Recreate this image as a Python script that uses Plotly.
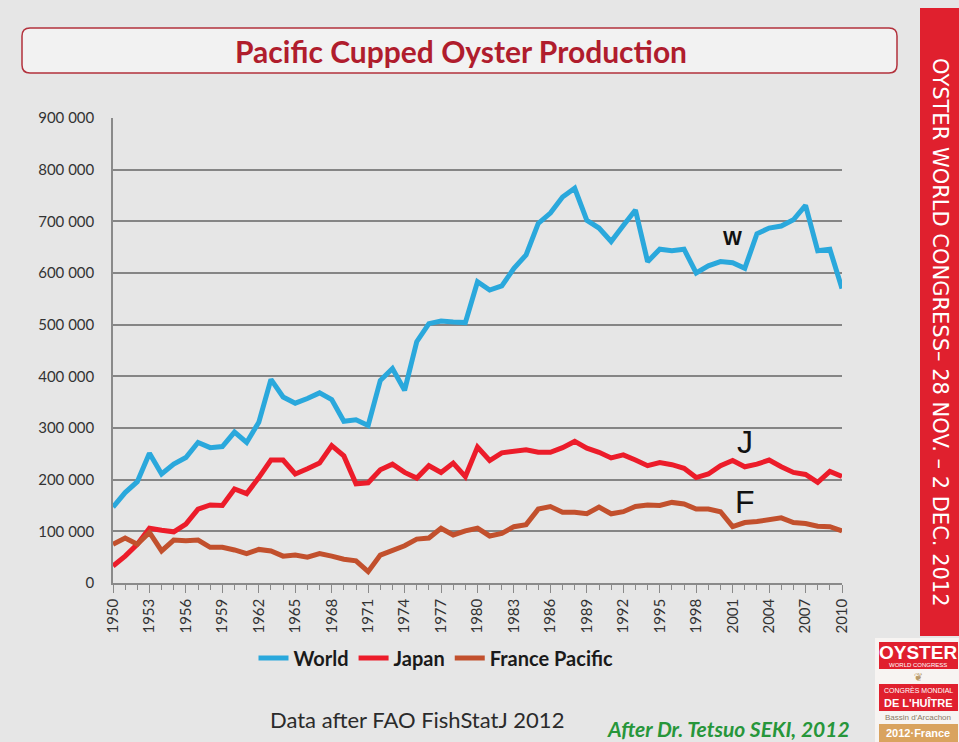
import plotly.graph_objects as go

# Production in tonnes (FAO FishStatJ 2012)
years = list(range(1950, 2011))

world = [147000, 175000, 196000, 251000, 211000, 230000, 243000, 272000, 262000, 264000,
         292000, 272000, 311000, 394000, 360000, 348000, 357000, 368000, 355000, 313000,
         316000, 305000, 392000, 415000, 373000, 467000, 502000, 507000, 505000, 504000,
         583000, 567000, 575000, 609000, 635000, 696000, 716000, 747000, 764000, 702000,
         687000, 661000, 692000, 722000, 622000, 646000, 643000, 646000, 600000, 614000,
         622000, 620000, 609000, 676000, 687000, 691000, 703000, 731000, 643000, 646000,
         570000]

japan = [33000, 52000, 75000, 106000, 102000, 99000, 114000, 143000, 151000, 150000,
         182000, 173000, 204000, 238000, 238000, 211000, 221000, 232000, 266000, 246000,
         192000, 194000, 219000, 230000, 214000, 203000, 227000, 214000, 232000, 206000,
         263000, 237000, 252000, 256000, 258000, 253000, 253000, 262000, 274000, 261000,
         253000, 242000, 248000, 238000, 227000, 233000, 229000, 222000, 204000, 211000,
         227000, 237000, 225000, 230000, 238000, 225000, 214000, 210000, 195000, 216000,
         206000]

france = [75000, 87000, 75000, 98000, 62000, 83000, 82000, 83000, 69000, 69000,
          64000, 57000, 65000, 62000, 52000, 54000, 50000, 57000, 52000, 46000,
          43000, 22000, 54000, 64000, 72000, 85000, 87000, 106000, 93000, 101000,
          106000, 91000, 96000, 109000, 113000, 143000, 148000, 137000, 137000, 134000,
          147000, 134000, 138000, 148000, 151000, 150000, 156000, 153000, 143000, 143000,
          138000, 109000, 117000, 119000, 122000, 126000, 117000, 115000, 110000, 109000,
          101000]

series_names = ["World", "Japan", "France Pacific"]
series_colors = ["#2aa8dc", "#ec1c2a", "#c2502d"]
x_ticks = list(range(1950, 2011, 3))
y_ticks = list(range(0, 900001, 100000))

# figure geometry (pixels) used to place the slide decorations
W, H = 959, 742
L, R, T, B = 113, 842, 118, 583


def px(x):
    return (x - L) / (R - L)


def py(y):
    return (B - y) / (B - T)


def note(x, y, text, size, color, family="Lato", xanchor="center", **kw):
    fig.add_annotation(xref="paper", yref="paper", x=px(x), y=py(y), text=text,
                       showarrow=False, xanchor=xanchor, yanchor="middle",
                       font=dict(family=family, size=size, color=color), **kw)


def box(x0, y0, x1, y1, color):
    fig.add_shape(type="rect", xref="paper", yref="paper",
                  x0=px(x0), x1=px(x1), y0=py(y0), y1=py(y1),
                  line=dict(width=0), fillcolor=color, layer="below")


fig = go.Figure()
for name, vals, col in zip(series_names, [world, japan, france], series_colors):
    fig.add_trace(go.Scatter(x=years, y=vals, name=name, mode="lines",
                             line=dict(color=col, width=5)))

# letters next to the lines
for txt, yr, val, size in [("<b>W</b>", 2001, 668000, 20), ("J", 2002, 272000, 32), ("F", 2002, 157000, 32)]:
    fig.add_annotation(x=yr, y=val, text=txt, showarrow=False, xanchor="center", yanchor="middle",
                       font=dict(family="Liberation Sans", size=size, color="#111111"))

# title box
fig.add_shape(type="path", xref="paper", yref="paper",
              path=(f"M {px(30)},{py(28)} L {px(889)},{py(28)} Q {px(897)},{py(28)} {px(897)},{py(36)} "
                    f"L {px(897)},{py(65)} Q {px(897)},{py(73)} {px(889)},{py(73)} "
                    f"L {px(30)},{py(73)} Q {px(22)},{py(73)} {px(22)},{py(65)} "
                    f"L {px(22)},{py(36)} Q {px(22)},{py(28)} {px(30)},{py(28)} Z"),
              line=dict(color="#b3323d", width=1.5), fillcolor="#f2f2f2", layer="below")
note(461, 51, "<b>Pacific Cupped Oyster Production</b>", 30, "#b01d2d")

# red banner on the right
box(920, 8, 962, 636, "#e0202e")
note(940, 332, "OYSTER WORLD CONGRESS– 28 NOV. – 2 DEC. 2012", 21, "white",
     family="DejaVu Sans", textangle=90)

# congress logo, bottom right
box(875, 638, 962, 745, "#f7f4f2")
box(879, 642, 958, 669, "#e0202e")
box(879, 684, 958, 711, "#e0202e")
box(879, 724, 958, 745, "#d9a35f")
note(918, 652, "<b>OYSTER</b>", 19, "white", family="Liberation Sans")
note(918, 665, "WORLD CONGRESS", 6, "white", family="Liberation Sans")
note(918, 677, "❦", 11, "#b89a6a", family="DejaVu Sans")
note(918, 690, "CONGRÈS MONDIAL", 7, "white", family="Liberation Sans")
note(918, 703, "<b>DE L'HUÎTRE</b>", 11, "white", family="Liberation Sans")
note(918, 717, "Bassin d'Arcachon", 8, "#8a7a66", family="Liberation Sans")
note(918, 733, "<b>2012·France</b>", 11, "white", family="Liberation Sans")

# footer texts
note(268, 719, "Data after FAO FishStatJ 2012", 22, "#2b2b2b", xanchor="left")
note(852, 728, "<b><i>After Dr. Tetsuo SEKI, 2012</i></b>", 21, "#27963a", xanchor="right")

fig.update_layout(
    width=W, height=H,
    margin=dict(l=L, r=W - R, t=T, b=H - B),
    paper_bgcolor="#e6e6e6",
    plot_bgcolor="#e6e6e6",
    separators=". ",
    font=dict(family="Lato", size=15, color="#333333"),
    showlegend=True,
    legend=dict(orientation="h", x=px(436), y=py(658), xanchor="center", yanchor="middle",
                bgcolor="rgba(0,0,0,0)", font=dict(size=20, color="#1a1a1a", weight="bold"),
                itemwidth=30, tracegroupgap=0),
)
fig.update_xaxes(range=[1950, 2010], tickvals=x_ticks, tickangle=-90,
                 showgrid=False, showline=True, linecolor="#8a8a8a", linewidth=1.5,
                 ticks="outside", ticklen=8, tickcolor="#8a8a8a",
                 minor=dict(dtick=1, ticks="outside", ticklen=5, tickcolor="#8a8a8a", showgrid=False),
                 tickfont=dict(size=15, color="#333333"), zeroline=False)
fig.update_yaxes(range=[0, 900000], tickvals=y_ticks, tickformat=",d",
                 showgrid=True, gridcolor="#858585", gridwidth=1.5,
                 showline=True, linecolor="#8a8a8a", linewidth=1.5,
                 ticks="", ticklabelstandoff=14, tickfont=dict(size=15, color="#333333"),
                 zeroline=False)

fig.write_html("out.html", config={"displayModeBar": False},
               post_script="document.body.style.margin='0';")
